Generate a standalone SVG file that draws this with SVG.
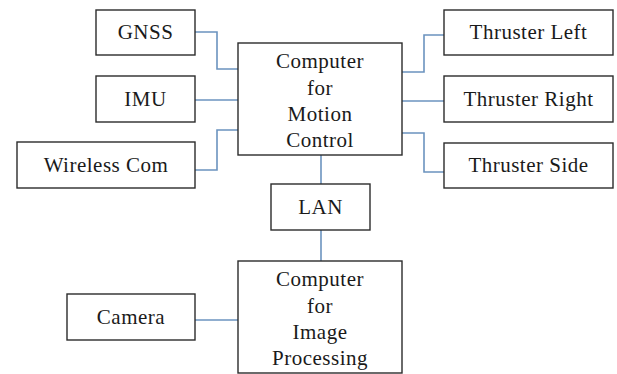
<svg xmlns="http://www.w3.org/2000/svg" width="617" height="374" viewBox="0 0 617 374">
<rect width="617" height="374" fill="#fff"/>
<g id="connectors" fill="none" stroke="#6b93bf" stroke-width="1.6">
<polyline points="195,32 217,32 217,69 238,69"/>
<polyline points="195,100 238,100"/>
<polyline points="238,130 217,130 217,170 195,170"/>
<polyline points="402,72 424,72 424,35 444,35"/>
<polyline points="402,101 444,101"/>
<polyline points="402,133 424,133 424,172 444,172"/>
<polyline points="321,155 321,184"/>
<polyline points="321,230 321,261"/>
<polyline points="195,320 238,320"/>
</g>
<g id="nodes" font-family="Liberation Serif" font-size="21" text-anchor="middle" letter-spacing="0.5">
<g id="gnss"><rect fill="#fff" stroke="#2b2b2b" stroke-width="1.4" x="96" y="10" width="99" height="45"/><text fill="#1a1a1a" x="145.5" y="38.5">GNSS</text></g>
<g id="imu"><rect fill="#fff" stroke="#2b2b2b" stroke-width="1.4" x="96" y="76" width="99" height="46"/><text fill="#1a1a1a" x="145.5" y="106">IMU</text></g>
<g id="wireless"><rect fill="#fff" stroke="#2b2b2b" stroke-width="1.4" x="17" y="142" width="178" height="46"/><text fill="#1a1a1a" x="106" y="172">Wireless Com</text></g>
<g id="motion"><rect fill="#fff" stroke="#2b2b2b" stroke-width="1.4" x="238" y="43" width="164" height="112"/>
<text fill="#1a1a1a" x="320" y="68">Computer</text><text fill="#1a1a1a" x="320" y="94.5">for</text><text fill="#1a1a1a" x="320" y="121">Motion</text><text fill="#1a1a1a" x="320" y="147">Control</text></g>
<g id="thruster-left"><rect fill="#fff" stroke="#2b2b2b" stroke-width="1.4" x="444" y="10" width="169" height="45"/><text fill="#1a1a1a" x="528.5" y="38.5">Thruster Left</text></g>
<g id="thruster-right"><rect fill="#fff" stroke="#2b2b2b" stroke-width="1.4" x="444" y="76" width="169" height="46"/><text fill="#1a1a1a" x="528.5" y="106">Thruster Right</text></g>
<g id="thruster-side"><rect fill="#fff" stroke="#2b2b2b" stroke-width="1.4" x="444" y="143" width="169" height="45"/><text fill="#1a1a1a" x="528.5" y="172">Thruster Side</text></g>
<g id="lan"><rect fill="#fff" stroke="#2b2b2b" stroke-width="1.4" x="271" y="184" width="99" height="46"/><text fill="#1a1a1a" x="320.5" y="214">LAN</text></g>
<g id="image"><rect fill="#fff" stroke="#2b2b2b" stroke-width="1.4" x="238" y="261" width="164" height="112"/>
<text fill="#1a1a1a" x="320" y="286">Computer</text><text fill="#1a1a1a" x="320" y="312.5">for</text><text fill="#1a1a1a" x="320" y="339">Image</text><text fill="#1a1a1a" x="320" y="365">Processing</text></g>
<g id="camera"><rect fill="#fff" stroke="#2b2b2b" stroke-width="1.4" x="67" y="294" width="128" height="46"/><text fill="#1a1a1a" x="131" y="324">Camera</text></g>
</g>
</svg>
